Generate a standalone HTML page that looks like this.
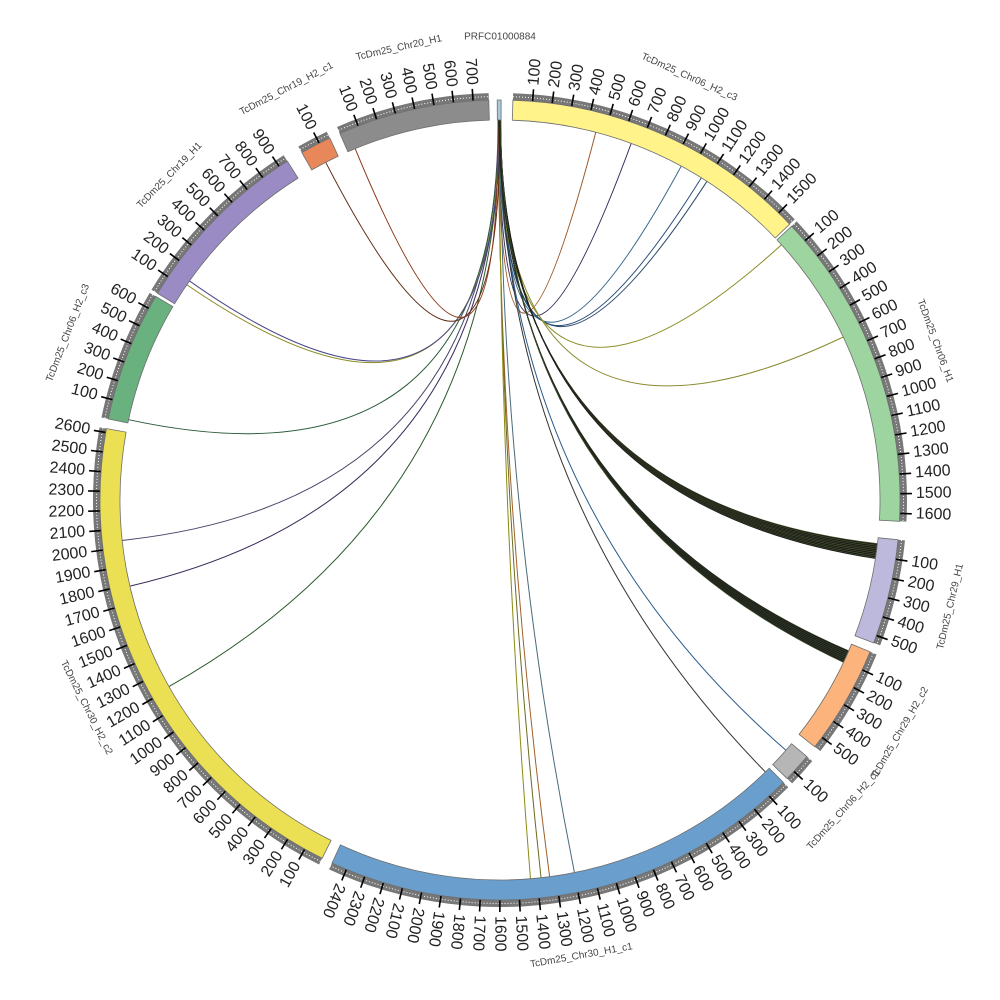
<!DOCTYPE html>
<html><head><meta charset="utf-8"><style>
html,body{margin:0;padding:0;background:#fff;}
svg{display:block;}
text{font-family:"Liberation Sans",sans-serif;}
</style></head><body>
<svg id="s" width="1000" height="1000" viewBox="0 0 1000 1000" xmlns="http://www.w3.org/2000/svg">
<g id="links"></g><g id="ideo"></g><g id="lab"></g>
</svg>
<script>
var NS="http://www.w3.org/2000/svg";
var K=0.0282, R1=380, R2=400;
function pt(r,a){var t=a*Math.PI/180;return [500+r*Math.sin(t),500-r*Math.cos(t)];}
function el(tag,attrs,parent,txt){var e=document.createElementNS(NS,tag);for(var k in attrs)e.setAttribute(k,attrs[k]);if(txt!==undefined)e.textContent=txt;parent.appendChild(e);return e;}
function ann(r1,r2,a1,a2){var L=(a2-a1)>180?1:0;var p1=pt(r2,a1),p2=pt(r2,a2),p3=pt(r1,a2),p4=pt(r1,a1);
return "M"+p1+" A"+r2+" "+r2+" 0 "+L+" 1 "+p2+" L"+p3+" A"+r1+" "+r1+" 0 "+L+" 0 "+p4+" Z";}
function arc(r,a1,a2){var L=(a2-a1)>180?1:0;return "M"+pt(r,a1)+" A"+r+" "+r+" 0 "+L+" 1 "+pt(r,a2);}
var chr=[
["PRFC01000884",359.6,20,"#a9c9da",0],
["TcDm25_Chr06_H2_c3",1.85,1580,"#fff38a",1],
["TcDm25_Chr06_H1",46.8,1640,"#9dd49f",1],
["TcDm25_Chr29_H1",95.7,540,"#bcb9dc",1],
["TcDm25_Chr29_H2_c2",112.3,560,"#fdb47c",1],
["TcDm25_Chr06_H2_c1",129.9,150,"#b6b6b6",1],
["TcDm25_Chr30_H1_c1",134.9,2480,"#6a9fcd",1],
["TcDm25_Chr30_H2_c2",206.4,2620,"#ebdf53",1],
["TcDm25_Chr06_H2_c3",281.7,670,"#69b17f",1],
["TcDm25_Chr19_H1",301.1,950,"#9a8bc4",1],
["TcDm25_Chr19_H2_c1",330.3,160,"#e8875a",1],
["TcDm25_Chr20_H1",336.4,780,"#8c8c8c",1]
];
var ideo=document.getElementById("ideo"),lab=document.getElementById("lab"),links=document.getElementById("links");
chr.forEach(function(c){
 var a1=c[1],a2=c[1]+c[2]*K;
 if(c[4]){
  el("path",{d:ann(R2,R2+7,a1,a2),fill:"#777"},ideo);
  el("path",{d:arc(R2+3.5,a1,a2),fill:"none",stroke:"#fff","stroke-width":1,"stroke-dasharray":"1 2"},ideo);
  for(var v=100;v<=c[2];v+=100){
   var a=a1+v*K,p=pt(R2,a),q=pt(R2+12,a);
   el("line",{x1:p[0],y1:p[1],x2:q[0],y2:q[1],stroke:"#000","stroke-width":1.6},ideo);
   var t=pt(R2+16,a),flip=a>=204;
   var rot=flip?a+90:a-90;
   el("text",{x:t[0],y:t[1],"font-size":16,fill:"#222","text-anchor":flip?"end":"start","dominant-baseline":"central",transform:"rotate("+rot+" "+t[0]+" "+t[1]+")"},lab,String(v));
  }
 }
 el("path",{d:ann(R1,R2,a1,a2),fill:c[3],stroke:"#6e6e6e","stroke-width":0.8},ideo);
 var ac=(a1+a2)/2; if(ac>=360)ac-=360;
 var n=pt(463,ac),rr=(ac>90&&ac<270)?ac-180:ac;
 if(c[0]=="PRFC01000884"){n=[500,37];rr=0;}
 el("text",{x:n[0],y:n[1],"font-size":10,fill:"#444","text-anchor":"middle","dominant-baseline":"central",transform:"rotate("+rr+" "+n[0]+" "+n[1]+")"},lab,c[0]);
});
function link(a0,a,col,w){var p=pt(R1,a0),q=pt(R1,a);
 el("path",{d:"M"+p+" Q500,500 "+q,fill:"none",stroke:col,"stroke-width":w||1},links);}
var L=[[14.6,"#9b5a2a"],[20.2,"#3c2a5a"],[28.5,"#3a6a8a"],[32,"#2a4a7a"],[33,"#2a4a6a"],
[47.8,"#8a8a20"],[64.6,"#8a8a30"],[131.2,"#2a5a8a"],[135.7,"#333"],
[168.7,"#4a6a7a"],[172.5,"#a0602a"],[173.8,"#6a6a20"],[175.4,"#8a8a10"],
[240.6,"#2a5a2a"],[256.9,"#3a2a5a"],[263.9,"#4a4a6a"],[282.2,"#2a5a3a"],
[304.5,"#8a8a20"],[305.2,"#4a4a8a"],[332.7,"#5a2a10"],[337.6,"#8a3a1a"]];
L.forEach(function(l,i){link(359.7+(i%5)*0.08,l[0],l[1],1);});
for(var i=0;i<26;i++){link(359.8+i*0.012,96.6+i*0.09,i%3?"#1a1a1a":"#4a5a2a",0.9);}
for(var i=0;i<22;i++){link(359.9+i*0.01,113.4+i*0.09,i%3?"#1a1a1a":"#3a4a2a",0.9);}
</script>
</body></html>
